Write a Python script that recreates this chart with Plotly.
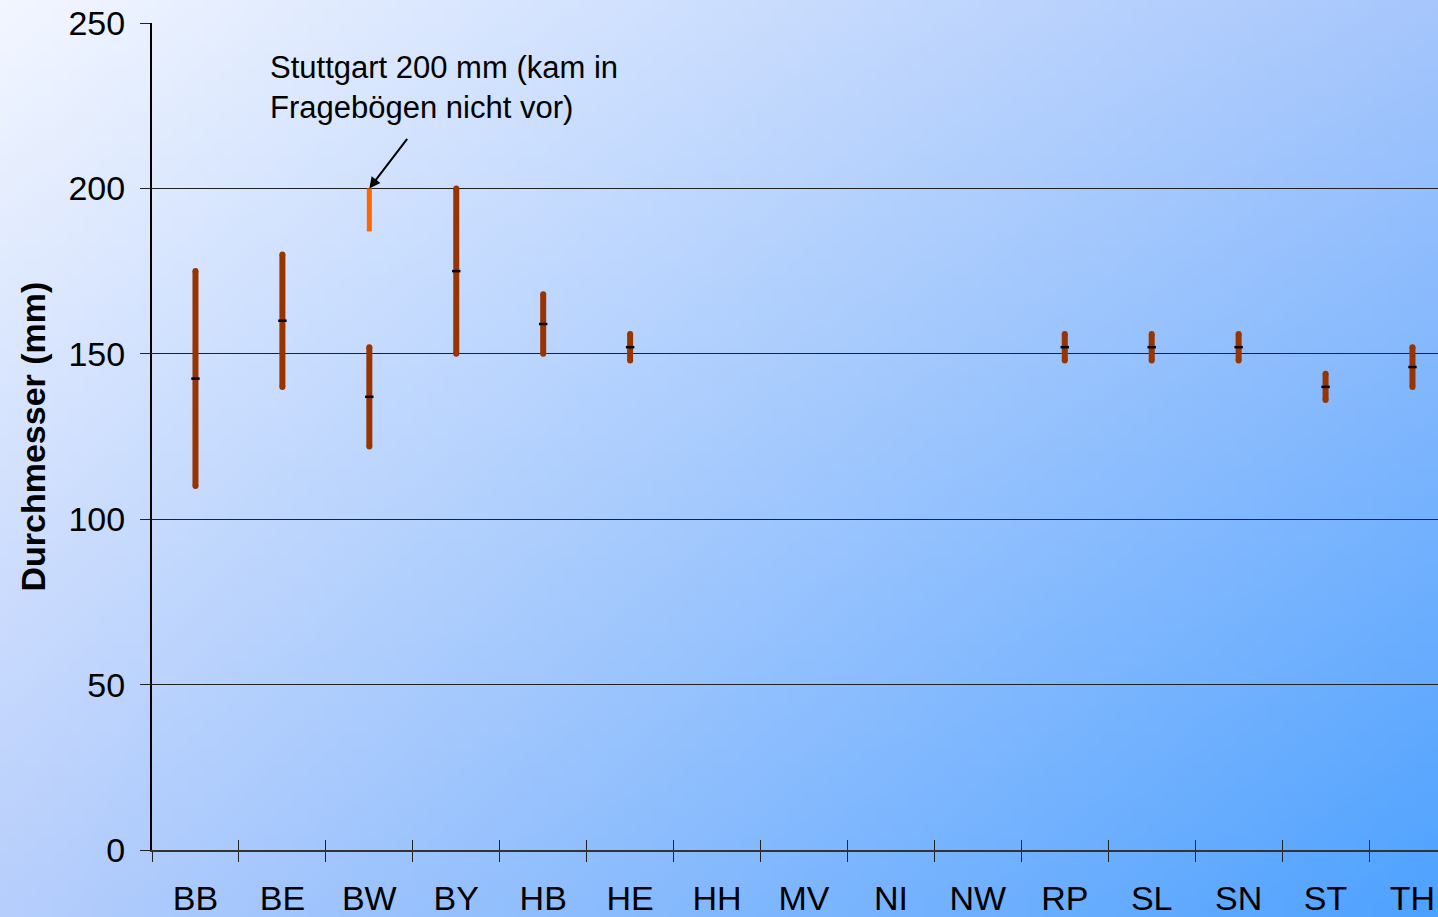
import base64, struct, zlib
import plotly.graph_objects as go

# ---- data ----
categories = ["BB", "BE", "BW", "BY", "HB", "HE", "HH", "MV", "NI", "NW",
              "RP", "SL", "SN", "ST", "TH"]
min_vals = [110, 140, 122, 150, 150, 148, None, None, None, None, 148, 148, 148, 136, 140]
max_vals = [175, 180, 152, 200, 168, 156, None, None, None, None, 156, 156, 156, 144, 152]
mean_vals = [142.5, 160, 137, 175, 159, 152, None, None, None, None, 152, 152, 152, 140, 146]
stuttgart_cat = "BW"
stuttgart_min = 187
stuttgart_max = 200
y_ticks = [0, 50, 100, 150, 200, 250]
annot_text = "Stuttgart 200 mm (kam in<br>Fragebögen nicht vor)"
y_title = "Durchmesser (mm)"

FONT = "Liberation Sans, Arial, sans-serif"
W, H = 1438, 917
ML, MR, MT, MB = 152, 0, 23, 67
PW, PH = W - ML - MR, H - MT - MB
SLOT = 86.93


# ---- background gradient image (styling) ----
def gradient_png(w, h, tl, tr, bl, br):
    raw = b""
    for j in range(h):
        v = j / (h - 1)
        raw += b"\x00"
        for i in range(w):
            u = i / (w - 1)
            px = []
            for c in range(3):
                top = tl[c] * (1 - u) + tr[c] * u
                bot = bl[c] * (1 - u) + br[c] * u
                px.append(int(round(top * (1 - v) + bot * v)))
            raw += bytes(px)

    def chunk(t, d):
        c = struct.pack(">I", len(d)) + t + d
        return c + struct.pack(">I", zlib.crc32(t + d) & 0xffffffff)

    png = b"\x89PNG\r\n\x1a\n"
    png += chunk(b"IHDR", struct.pack(">IIBBBBB", w, h, 8, 2, 0, 0, 0))
    png += chunk(b"IDAT", zlib.compress(raw, 9))
    png += chunk(b"IEND", b"")
    return "data:image/png;base64," + base64.b64encode(png).decode()


bg = gradient_png(96, 62, (242, 246, 255), (166, 198, 252), (182, 206, 252), (78, 162, 255))

# ---- range lines ----
rx, ry, ex, ey = [], [], [], []
for c, lo, hi in zip(categories, min_vals, max_vals):
    if lo is None:
        continue
    rx += [c, c, None]
    ry += [lo, hi, None]
    ex += [c, c]
    ey += [lo, hi]

fig = go.Figure()
fig.add_trace(go.Scatter(x=rx, y=ry, mode="lines",
                         line=dict(color="#993300", width=6),
                         hoverinfo="skip", showlegend=False))
fig.add_trace(go.Scatter(x=ex, y=ey, mode="markers",
                         marker=dict(color="#993300", size=6, line=dict(width=0)),
                         hoverinfo="skip", showlegend=False))
fig.add_trace(go.Scatter(x=[stuttgart_cat, stuttgart_cat], y=[stuttgart_min, stuttgart_max],
                         mode="lines", line=dict(color="#ff6600", width=5),
                         hoverinfo="skip", showlegend=False))
fig.add_trace(go.Scatter(x=categories, y=mean_vals, mode="markers", xaxis="x2",
                         marker=dict(symbol="line-ew", size=6, color="black",
                                     line=dict(color="black", width=2.5)),
                         showlegend=False))

xr = [-0.5, -0.5 + PW / SLOT]
common_x = dict(type="category", categoryorder="array", categoryarray=categories,
                range=xr, tickson="boundaries", showgrid=False, zeroline=False)

fig.update_layout(
    width=W, height=H,
    margin=dict(l=ML, r=MR, t=MT, b=MB, autoexpand=False),
    paper_bgcolor="#b8d0fc",
    plot_bgcolor="rgba(0,0,0,0)",
    font=dict(family=FONT, color="black"),
    xaxis=dict(**common_x, showline=True, linecolor="#333333", linewidth=2,
               ticks="outside", ticklen=10, tickwidth=1, tickcolor="#222222",
               tickfont=dict(size=34, family=FONT, color="black"),
               ticklabelstandoff=17),
    xaxis2=dict(**common_x, overlaying="x", matches="x", showline=False,
                ticks="inside", ticklen=10, tickwidth=1, tickcolor="#222222",
                showticklabels=False, side="bottom"),
    yaxis=dict(range=[0, 250], tickvals=y_ticks, showgrid=True, gridcolor="#222222",
               gridwidth=1, zeroline=False, showline=True, linecolor="black", linewidth=2,
               ticks="outside", ticklen=10, tickwidth=1, tickcolor="#222222",
               tickfont=dict(size=34, family=FONT, color="black"),
               ticklabelstandoff=8),
    images=[dict(source=bg, xref="paper", yref="paper",
                 x=-ML / PW, y=1 + MT / PH, sizex=W / PW, sizey=H / PH,
                 xanchor="left", yanchor="top", sizing="stretch", layer="below")],
    annotations=[
        dict(text=annot_text, xref="paper", yref="paper",
             x=(268 - ML) / PW, y=(850 - 48) / PH, xanchor="left", yanchor="top",
             align="left", showarrow=False,
             font=dict(size=31, family=FONT, color="black")),
        dict(text="", x=stuttgart_cat, y=stuttgart_max, xref="x", yref="y",
             showarrow=True, ax=39, ay=-51, arrowhead=2, arrowsize=1.1,
             arrowwidth=2, arrowcolor="black", standoff=0),
        dict(text="<b>" + y_title + "</b>", xref="paper", yref="paper",
             x=(32 - ML) / PW, y=0.5, xanchor="center", yanchor="middle",
             textangle=-90, showarrow=False,
             font=dict(size=34, family=FONT, color="black")),
    ],
)

fig.write_html("out.html", config={"displayModeBar": False},
               post_script="document.body.style.margin='0';document.body.style.padding='0';")
